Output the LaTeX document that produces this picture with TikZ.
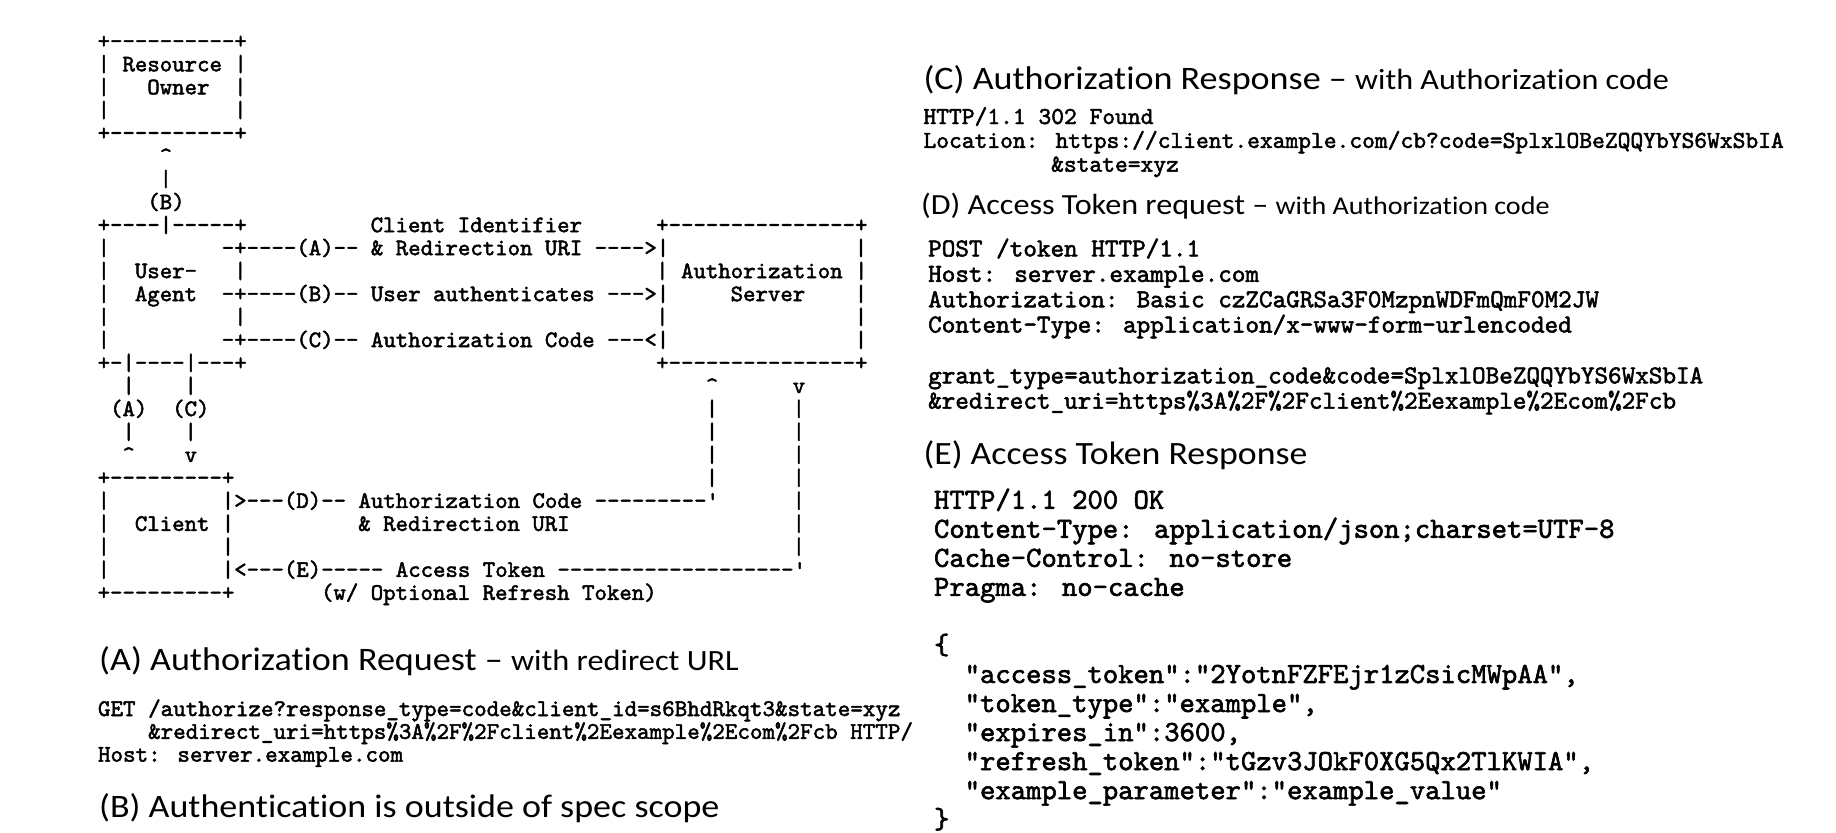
\documentclass[tikz,border=0pt]{standalone}
\usepackage{fontspec}
\setmainfont{Carlito}
\newfontfamily\headfont[FakeStretch=1.1,Renderer=OpenType,Ligatures={NoCommon,NoContextual},
	RawFeature={-liga;-clig}]{Carlito}
\newfontfamily\codefont[FakeBold=2,Ligatures=TeXOff]{lmmono10-regular.otf}

\begin{document}
\begin{tikzpicture}[x=0.01cm, y=-0.01cm,
	ascii/.style={anchor=base west, inner sep=0pt, font=\fontsize{5.75}{6}\codefont},
	code/.style={anchor=base west, inner sep=0pt, font=\fontsize{#1}{#1}\codefont},
	heading/.style={anchor=base west, inner sep=0pt, font=\headfont}]
	\useasboundingbox (0,0) rectangle (1568,711.4);

	% Ablaufdiagramm, Zeile/Spalte/Text
	\foreach \r/\c/\t in {0/5/+----------+, 1/5/| Resource |, 2/5/|, 2/9/Owner,
		2/16/|, 3/5/|, 3/16/|, 4/5/+----------+, 5/10/\textasciicircum, 6/10/|,
		7/9/(B), 8/5/+----|-----+, 8/27/Client Identifier, 8/50/+---------------+,
		9/5/|, 9/15/-+----(A)-- \& Redirection URI ---->|, 9/66/|,
		10/5/|, 10/8/User-, 10/16/|, 10/50/| Authorization |,
		11/5/|, 11/8/Agent, 11/15/-+----(B)-- User authenticates --->|, 11/56/Server,
		11/66/|, 12/5/|, 12/16/|, 12/50/|, 12/66/|,
		13/5/|, 13/15/-+----(C)-- Authorization Code ---<|, 13/66/|,
		14/5/+-|----|---+, 14/50/+---------------+,
		15/7/|, 15/12/|, 15/54/\textasciicircum, 15/61/v,
		16/6/(A), 16/11/(C), 16/54/|, 16/61/|,
		17/7/|, 17/12/|, 17/54/|, 17/61/|,
		18/7/\textasciicircum, 18/12/v, 18/54/|, 18/61/|,
		19/5/+---------+, 19/54/|, 19/61/|,
		20/5/|, 20/15/|>---(D)-- Authorization Code ---------', 20/61/|,
		21/5/|, 21/8/Client, 21/15/|, 21/26/\& Redirection URI, 21/61/|,
		22/5/|, 22/15/|, 22/61/|,
		23/5/|, 23/15/|<---(E)----- Access Token -------------------',
		24/5/+---------+, 24/23/{(w/ Optional Refresh Token)}}
		\node[ascii] (ascii-\r-\c) at ({29.7 + 10.6*\c}, {41.3 + 19.625*\r}) {\t};

	% (A) Anfrage
	\node[heading] (headA) at (84, 572.5) {\fontsize{7.97}{9}\selectfont (A) Authorization
	Request – \fontsize{7.14}{9}\selectfont with redirect URL};
	\node[code=5.8] (codeA1) at (83, 611.5)
	{GET /authorize?response\_type=code\&client\_id=s6BhdRkqt3\&state=xyz};
	\begin{scope}
		\clip (60, 615) rectangle (781, 640);
		\node[code=5.8] (codeA2) at (83 + 4*10.7, 631)
		{\&redirect\_uri=https\%3A\%2F\%2Fclient\%2Eexample\%2Ecom\%2Fcb HTTP/1.1};
	\end{scope}
	\node[code=5.8] (codeA3) at (83, 650.5) {Host: server.example.com};

	% (B) Authentifizierung
	\node[heading] (headB) at (84, 698.5) {\fontsize{7.95}{9}\selectfont (B) Authentication
	is outside of spec scope};

	% (C) Antwort
	\node[heading] (headC) at (788, 76.4) {\fontsize{7.97}{9}\selectfont (C) Authorization
	Response – \fontsize{7.1}{9}\selectfont with Authorization code};
	\node[code=5.91] (codeC1) at (788, 105.9) {HTTP/1.1 302 Found};
	\node[code=5.91] (codeC2) at (788, 126.3)
	{Location: https://client.example.com/cb?code=SplxlOBeZQQYbYS6WxSbIA};
	\node[code=5.91] (codeC3) at (788 + 10*10.9, 146.6) {\&state=xyz};

	% (D) Token-Anfrage
	\node[heading] (headD) at (786, 183.4) {\fontsize{7.1}{9}\selectfont (D) Access Token
	request – \fontsize{6.2}{9}\selectfont with Authorization code};
	\node[code=6.29] (codeD1) at (792, 219) {POST /token HTTP/1.1};
	\node[code=6.29] (codeD2) at (792, 240.7) {Host: server.example.com};
	\node[code=6.29] (codeD3) at (792, 262.4)
	{Authorization: Basic czZCaGRSa3F0MzpnWDFmQmF0M2JW};
	\node[code=6.29] (codeD4) at (792, 284)
	{Content-Type: application/x-www-form-urlencoded};
	\node[code=6.29] (codeD5) at (792, 327.4)
	{grant\_type=authorization\_code\&code=SplxlOBeZQQYbYS6WxSbIA};
	\node[code=6.29] (codeD6) at (792, 349)
	{\&redirect\_uri=https\%3A\%2F\%2Fclient\%2Eexample\%2Ecom\%2Fcb};

	% (E) Token-Antwort
	\node[heading] (headE) at (788, 397) {\fontsize{7.9}{9}\selectfont (E) Access Token
	Response};
	\node[code=7.1] (codeE1) at (797, 434.5) {HTTP/1.1 200 OK};
	\node[code=7.1] (codeE2) at (797, 459.3)
	{Content-Type: application/json;charset=UTF-8};
	\node[code=7.1] (codeE3) at (797, 484.1) {Cache-Control: no-store};
	\node[code=7.1] (codeE4) at (797, 508.9) {Pragma: no-cache};
	\node[code=7.1] (codeE5) at (797, 558.5) {\{};
	\node[code=7.1] (codeE6) at (797 + 2*13.1, 583.3)
	{"access\_token":"2YotnFZFEjr1zCsicMWpAA",};
	\node[code=7.1] (codeE7) at (797 + 2*13.1, 608.1) {"token\_type":"example",};
	\node[code=7.1] (codeE8) at (797 + 2*13.1, 632.9) {"expires\_in":3600,};
	\node[code=7.1] (codeE9) at (797 + 2*13.1, 657.7)
	{"refresh\_token":"tGzv3JOkF0XG5Qx2TlKWIA",};
	\node[code=7.1] (codeE10) at (797 + 2*13.1, 682.5)
	{"example\_parameter":"example\_value"};
	\node[code=7.1] (codeE11) at (797, 707.3) {\}};
\end{tikzpicture}
\end{document}
